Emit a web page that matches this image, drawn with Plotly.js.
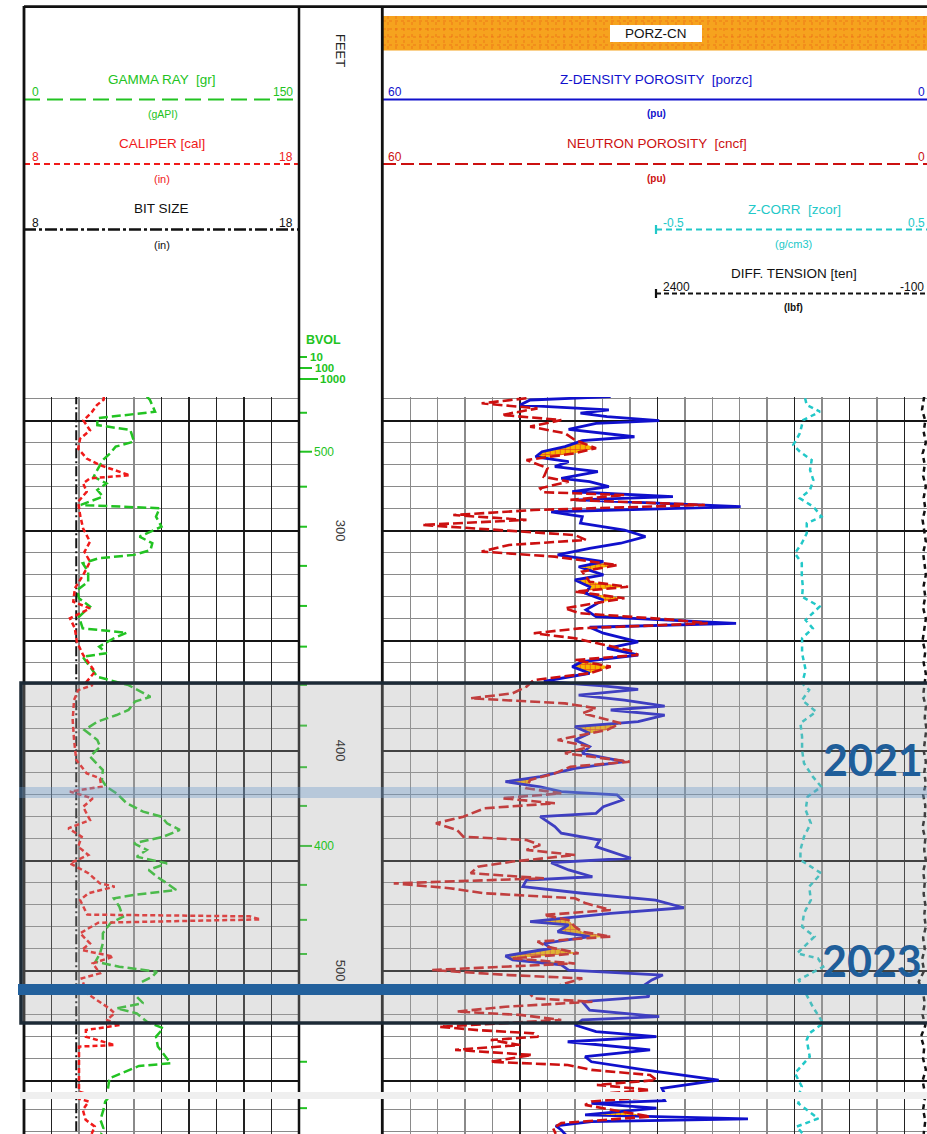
<!DOCTYPE html>
<html><head><meta charset="utf-8">
<script src="https://cdn.plot.ly/plotly-3.0.1.min.js"></script>
<style>html,body{margin:0;padding:0;background:#fff;}#chart{width:927px;height:1134px;}</style>
</head><body><div id="chart"></div>
<script>
// ---------------- DATA (depth in feet, value) ----------------
const grCurve=[[239,67],[240.6,68.7],[245.9,71.5],[248.9,40],[252,40],[254.2,58],[259.5,60],[261.8,50],[264.8,47],[267.9,43],[272.4,40],[275.5,38],[278.5,45],[281.5,40],[284.5,43],[288.3,31],[289.8,74],[293.6,72],[298.2,75],[302.7,63],[305.7,70],[308.8,69],[311,60],[312.5,41],[314.8,32],[318.6,35],[323.2,35],[327,29],[330.7,30],[334.5,36],[339.1,30],[344.4,32],[346.4,56],[348.9,49],[352.7,41],[355.7,45],[357.3,32],[361.8,36],[366.4,40],[370.2,57],[375.5,69],[377.7,60.5],[381.5,57],[383.8,50.5],[386.8,40],[390.6,33],[395.1,40],[398.2,41.5],[402.7,36],[408.8,43],[413.3,42.5],[416.4,45],[419.4,50.5],[423.9,56],[427.7,65],[430,75],[433,78],[436,85],[439.1,76],[442.1,60],[445.1,67],[448.2,61.5],[451.2,78],[454.2,68],[457.3,72.5],[460.3,78],[463.3,83],[465.6,60],[467.1,49],[470.9,52],[475.5,54],[478.5,47],[483,43],[487.6,43],[492.1,41.5],[495.9,39],[498.2,52],[500.5,72.5],[502.7,70],[505.7,63],[511.8,61.5],[514.8,65],[517.1,50.5],[519.4,61.5],[523.2,67],[526.2,76],[530,72],[534.5,73],[539.1,77],[542.1,80],[543.3,62.7],[547.4,51],[548.9,46.6],[555,45.6],[556.3,44.3],[560.1,43.3],[564.6,41.7],[568.4,43.3],[571,42]];
const calCurve=[[239,10.9],[240.4,10.9],[242.9,10.65],[246.2,10.46],[249.9,10.16],[254.4,10.4],[258.2,10.04],[262.7,9.97],[267.2,10.28],[270.2,10.76],[274.8,11.85],[276.2,10.4],[278.5,10.15],[282.3,10.28],[286.8,9.97],[292.9,10.04],[299,10.15],[305,10.4],[309.6,10.2],[314.1,10.4],[320.2,10.15],[326.2,9.85],[332.3,9.79],[335.3,10.4],[339.8,9.67],[344.4,9.85],[350.4,9.92],[356.5,10.15],[364.1,10.58],[368.6,10.28],[370.2,10.5],[372.5,9.97],[377,9.82],[386.1,9.77],[395.1,9.82],[404.2,9.9],[410.3,10.28],[412.5,10.76],[416.4,10.82],[418.6,9.67],[421.7,10.5],[425.5,10.15],[431.5,10.4],[435.3,9.61],[439.1,10.1],[443.6,9.97],[447.4,10.34],[451.2,9.67],[455.7,10.34],[460.3,10.76],[461.8,11.3],[464.8,10.34],[467.9,10.04],[474.5,10.3],[475.3,16.2],[476.7,16.6],[478.2,10.7],[483,10.04],[487.6,10.4],[490.6,10.1],[493.6,11.25],[496.7,10.5],[501.2,10.76],[503.5,10.1],[510.3,10.28],[514.1,10.76],[517.1,11.1],[519.4,11.3],[522.4,11],[524.7,11.5],[527,10.25],[530,10.25],[532.3,10.9],[533.8,11.3],[534.5,10],[540.6,10],[549.7,10],[555,10],[556.3,10.35],[560.1,10.14],[564.6,10.24],[567.6,10.57],[571,10.46]];
const bitCurve=[[238,9.9],[572,9.9]];
const denCurve=[[239.1,35.1],[240.6,43.9],[242.9,45],[245.1,35.3],[246.6,38.4],[248.2,35.5],[250,29.8],[251.2,36.7],[253.9,39.7],[255.7,35.9],[257.3,32.5],[259.1,38.2],[261.8,40.1],[264.1,42.6],[266.4,43.3],[268.6,39.7],[270.9,41.2],[273.2,36.5],[276.2,40.5],[277.7,37.4],[280,35.3],[282.3,39.3],[284.5,28.3],[286,38.6],[289.1,20.9],[291.4,41.6],[293.6,38.2],[296.6,38.4],[299.7,33.6],[302.7,31.3],[305.7,34],[308,37.4],[311,40.9],[314.1,35.9],[316.4,38.6],[320.1,35.9],[322.4,39],[325.5,37.4],[328.5,37.8],[331.5,35.9],[336,37.8],[339.1,36.7],[342.1,21.4],[343.9,37.4],[346.6,35.9],[350.5,32.1],[353.5,35.5],[356.5,32.1],[359.5,38.2],[361.8,39.3],[364.8,37.4],[368.5,42.4],[370.5,36],[372.1,32.1],[374.7,38.6],[377,33.6],[379.7,29.2],[381.5,35.1],[383.8,29.2],[386.8,32.1],[389.1,39],[392.1,37.4],[395.1,39],[398.2,37.4],[401.2,38.2],[405,33.6],[408,39],[411.8,42.8],[414.1,46.6],[416.4,42.8],[418.6,40.5],[420.1,34.4],[422.4,33.8],[425.5,35.9],[428.5,36.7],[430,42.8],[434.5,41.2],[437.5,40.5],[440.6,36.3],[443.6,36.7],[446.6,34.4],[448.9,32.9],[450.9,41.6],[454.2,39.7],[457.3,37.1],[458.8,44.3],[461.8,44.7],[464.8,38.2],[467.9,30.2],[471.4,27.1],[473.9,35.1],[477.7,43.9],[479.2,39.7],[482.3,40.9],[484.5,37.4],[487.6,42.4],[489.8,41.6],[493.3,46.6],[495.1,45.8],[497.4,40.5],[499.7,39.7],[502,29.4],[504.2,30.6],[507.3,31.7],[511.8,30.9],[514.1,38.2],[517.9,37.4],[520.9,29.8],[522.4,38.2],[524.7,39],[527.7,36.7],[530,30.1],[532.3,39.8],[536,30.8],[539.1,37.9],[541.4,37.2],[545.1,31.4],[549.7,23.3],[553.5,29.5],[555.9,29.2],[557.1,37.2],[559.3,30.1],[562.4,37.9],[564.2,20.1],[565.4,37.2],[567.4,41.1],[569.2,40.5],[571.5,40]];
const neuCurve=[[239.8,44.3],[242.1,49.2],[244.4,43.1],[247.4,47],[249.7,40.5],[252.7,43.9],[255.7,40.1],[258.8,39],[262.5,36.7],[264.8,39],[267.9,44.3],[271.6,42],[275.5,42.4],[277.7,39.7],[280.7,42.8],[282.5,42.5],[283.8,33.6],[286,39.5],[288.3,24.8],[290.6,43.5],[292.9,52.3],[295.1,44.3],[297.4,55.7],[299.7,47.7],[302,39],[304.2,37.8],[306.5,46.2],[309.5,49.2],[311.8,41.2],[315.6,34.4],[318.6,38.2],[323.2,37.4],[325.5,33.2],[327.7,39],[330.7,33.6],[335.3,40.1],[337.5,38.5],[340.6,27.9],[342.1,24.5],[344.4,38.5],[346.6,43.5],[348.9,39],[352.7,35.1],[354.5,33],[356.5,32.1],[358.8,39],[361.8,35.1],[364.8,37.4],[367.9,43.5],[370.9,44.3],[373.9,45.8],[376.2,50.4],[378.5,40.1],[380.7,36.7],[383,38.2],[387.5,34],[390.6,35.5],[395.1,40.9],[398.2,37.4],[401.2,40.1],[405,33],[407.3,39.5],[410.3,41.2],[413.3,43.9],[417.1,44.3],[419.4,40.5],[421.6,47],[423.9,41.2],[426.2,48.9],[430,51.2],[433,54.2],[436,51.9],[439.1,51.2],[440.6,44.3],[442.9,42.8],[445.1,44.3],[447.4,39],[450.4,45.8],[452.7,49.6],[455.7,50.4],[458,42.4],[460.3,58.8],[462.5,52.7],[464.8,48.9],[467.1,39],[469.4,37.8],[472.4,35.1],[474.7,42.4],[477,39.7],[480,39],[482.3,38.2],[484.5,35.1],[486.8,43.1],[489.1,42],[492.1,38.6],[494.4,45.8],[496.7,39],[499.7,54.6],[502,46.2],[503.5,38.2],[507,41],[510,44],[512.6,43.5],[514.1,37.1],[516.4,46.6],[518.6,51.9],[520.1,45],[522.4,40.5],[525.5,53.8],[527,49.6],[528.5,43.5],[530,43],[531.5,48.2],[533.8,45],[536,52.1],[538.3,43.7],[541.4,48.2],[542.9,39.8],[545.1,37.2],[547.4,30.8],[549.7,30.1],[551.9,36.6],[554.2,30.8],[556.3,37.2],[557.8,37.9],[560.8,34],[563.1,30.8],[566.1,40.5],[568.4,41.4],[571,41.1]];
const zcorCurve=[[239.8,0.038],[242.9,0.044],[245.9,0.092],[249.7,0.031],[255.7,0.019],[261,-0.005],[264.1,0.019],[267.9,0.062],[272.4,0.056],[277,0.068],[281.5,0.056],[285.3,0.019],[289.1,0.068],[293.6,0.098],[296.6,0.044],[301.2,0.044],[305.7,0.026],[310.3,0.001],[314.8,0.026],[320.9,0.026],[325.5,0.03],[330,0.027],[334.5,0.091],[340.6,0.04],[344.4,0.066],[348.9,0.027],[355.7,0.027],[363.3,0.04],[369.4,0.027],[372.4,0.053],[377,0.027],[382.3,0.078],[387.5,0.021],[393.6,0.027],[399.7,0.027],[405.7,0.034],[411.8,0.066],[416.4,0.097],[420.9,0.047],[427,0.04],[433,0.059],[439.1,0.034],[445.1,0.021],[449.7,0.021],[455.7,0.097],[461.8,0.053],[467.9,0.059],[473.9,0.034],[480,0.027],[484.5,0.072],[489.1,0.034],[492.1,0.009],[494.4,0.085],[498.2,0.104],[504.2,0.015],[510.3,0.04],[516.4,0.066],[523.9,0.104],[528.5,0.053],[531.5,0.044],[539.1,0.055],[546.6,0.001],[552.7,0.026],[557.1,0.013],[564,0.086],[567.7,0.007],[571,0.03]];
const tenCurve=[[239,-30],[245,-10],[250,-40],[255,-25],[260,-45],[265,-15],[270,-35],[275,-20],[280,-45],[285,-25],[290,-40],[295,-15],[300,-30],[305,-45],[310,-20],[315,-35],[320,-45],[325,-25],[330,-40],[335,-20],[340,-45],[345,-30],[350,-15],[355,-40],[360,-25],[365,-45],[370,-30],[375,-20],[380,-45],[385,-35],[390,-50],[395,-40],[400,-25],[405,-45],[410,-30],[415,-45],[420,-20],[425,-40],[430,-35],[435,-15],[440,-40],[445,-30],[450,-45],[455,-20],[460,-35],[465,-25],[470,-40],[475,-30],[480,-45],[485,-20],[490,-35],[495,-10],[500,-30],[505,20],[510,-20],[515,-35],[520,-15],[525,-40],[530,0],[535,-30],[540,-20],[545,-45],[550,-15],[555,-35],[560,-20],[565,-40],[571,-25]];
const bvolTickDepth=[246.4,264.1,280,298.2,316,334.2,352.7,370.1,388.6,407.5,425.1,443.3,461,476.9,492.4,541.4,559.3];
const bvolLabelDepth=[264.1,443.3];
const bvolLabelText=['500','400'];
const depthLabels=[300,400,500];
const yearLabels=['2021','2023'];

// ---------------- HELPERS ----------------
const W=927,H=1134;
const PX=x=>x/W, PY=y=>1-y/H;
const FONT='Liberation Sans, Arial, sans-serif';
const f=(size,color,fam)=>({family:fam||FONT,size:size,color:color});
const GRC='#22c322',CALC='#f01a1a',DENC='#1010cc',NEUC='#cc1010',ZCC='#22c8c8',BLK='#111';
const dOf=c=>c.map(p=>p[0]), vOf=c=>c.map(p=>p[1]);

const layout={width:W,height:H,margin:{l:0,r:0,t:0,b:0},paper_bgcolor:'#fff',plot_bgcolor:'rgba(0,0,0,0)',showlegend:false,shapes:[],annotations:[]};
function ann(text,x,y,font,extra){layout.annotations.push(Object.assign({text:text,x:PX(x),y:PY(y),xref:'paper',yref:'paper',showarrow:false,xanchor:'center',yanchor:'middle',font:font},extra||{}));}
function hline(x0,x1,y,color,width,dash,layer){layout.shapes.push({type:'line',xref:'paper',yref:'paper',x0:PX(x0),x1:PX(x1),y0:PY(y),y1:PY(y),line:{color:color,width:width,dash:dash||'solid'},layer:layer||'above'});}
function vline(x,y0,y1,color,width,dash,layer){layout.shapes.push({type:'line',xref:'paper',yref:'paper',x0:PX(x),x1:PX(x),y0:PY(y0),y1:PY(y1),line:{color:color,width:width,dash:dash||'solid'},layer:layer||'above'});}
function rect(x0,x1,y0,y1,fill,line,layer){layout.shapes.push({type:'rect',xref:'paper',yref:'paper',x0:PX(x0),x1:PX(x1),y0:PY(y1),y1:PY(y0),fillcolor:fill,line:line||{width:0},layer:layer||'above'});}

// ---------------- CROSSOVER FILL (density porosity > neutron porosity) ----------------
function interp(c,d){if(d<=c[0][0])return c[0][1];const n=c.length;if(d>=c[n-1][0])return c[n-1][1];let i=1;while(c[i][0]<d)i++;const t=(d-c[i-1][0])/(c[i][0]-c[i-1][0]);return c[i-1][1]+t*(c[i][1]-c[i-1][1]);}
const base=[...new Set([...dOf(denCurve),...dOf(neuCurve)])].sort((a,b)=>a-b);
const grid=[];
for(let i=0;i<base.length;i++){
  if(i>0){const a=base[i-1],b=base[i];const ea=interp(denCurve,a)-interp(neuCurve,a),eb=interp(denCurve,b)-interp(neuCurve,b);
    if(ea*eb<0)grid.push(a+(b-a)*ea/(ea-eb));}
  grid.push(base[i]);
}
const nI=grid.map(d=>interp(neuCurve,d)), mI=grid.map(d=>Math.max(interp(neuCurve,d),interp(denCurve,d)));
const fillX=[...nI,...mI.slice().reverse()], fillY=[...grid,...grid.slice().reverse()];

// ---------------- AXES / ROWS ----------------
const rows=[{px:[397,1092],rng:[555.14,239.23]},{px:[1099,1134],rng:[571.05,555.14]}];
const T1=[24,299],T2=[382.8,927],TD=[299,382];
const hid={showticklabels:false,ticks:'',zeroline:false,showline:false};
const traces=[];
const t1Major=[15,45,75,90,105,120,135], t1Minor=[], t2Major=[45,30,15,9,3], t2Minor=[];
for(let v=0;v<=150;v+=15)t1Minor.push(v);
for(let v=0;v<=60;v+=3)t2Minor.push(v);

rows.forEach((r,i)=>{
  const b=i*6;
  const n=j=>'x'+((b+j)===1?'':(b+j)), key=j=>'xaxis'+((b+j)===1?'':(b+j));
  const yM=i===0?'y':'y3', yD=i===0?'y2':'y4', yMk=i===0?'yaxis':'yaxis3', yDk=i===0?'yaxis2':'yaxis4';
  const dom=[PY(r.px[1]),PY(r.px[0])];
  layout[yMk]=Object.assign({domain:dom,range:r.rng,anchor:n(1),tickmode:'linear',tick0:0,dtick:50,showgrid:true,gridcolor:'#151515',gridwidth:2,
    minor:{tickmode:'linear',tick0:0,dtick:10,showgrid:true,gridcolor:'#8a8a8a',gridwidth:1.5}},hid);
  layout[yDk]=Object.assign({domain:dom,range:r.rng,anchor:n(6),visible:false,showgrid:false},hid);
  layout[key(1)]=Object.assign({domain:[PX(T1[0]),PX(T1[1])],range:[0,150],anchor:yM,tickmode:'array',tickvals:t1Major,showgrid:true,gridcolor:'#222',gridwidth:1.5,
    minor:{tickmode:'array',tickvals:t1Minor,showgrid:true,gridcolor:'#8a8a8a',gridwidth:1.5}},hid);
  layout[key(2)]=Object.assign({overlaying:n(1),range:[8,18],anchor:yM,visible:false,showgrid:false},hid);
  layout[key(3)]=Object.assign({domain:[PX(T2[0]),PX(T2[1])],range:[60,0.537],anchor:yM,tickmode:'array',tickvals:t2Major,showgrid:true,gridcolor:'#222',gridwidth:1.5,
    minor:{tickmode:'array',tickvals:t2Minor,showgrid:true,gridcolor:'#8a8a8a',gridwidth:1.5}},hid);
  layout[key(4)]=Object.assign({overlaying:n(3),range:[-1.5,0.482],anchor:yM,visible:false,showgrid:false},hid);
  layout[key(5)]=Object.assign({overlaying:n(3),range:[4901,-55.4],anchor:yM,visible:false,showgrid:false},hid);
  layout[key(6)]=Object.assign({domain:[PX(TD[0]),PX(TD[1])],range:[0,83],anchor:yD,visible:false,showgrid:false},hid);

  const L=(c,xa,color,width,dash)=>({type:'scatter',mode:'lines',x:vOf(c),y:dOf(c),xaxis:xa,yaxis:yM,line:{color:color,width:width,dash:dash||'solid'},hoverinfo:'skip'});
  traces.push({type:'scatter',mode:'lines',x:fillX,y:fillY,xaxis:n(3),yaxis:yM,fill:'toself',fillcolor:'#f6b000',
    fillpattern:{shape:'+',fgcolor:'#e8421c',bgcolor:'#f7b800',size:5,solidity:0.25},line:{width:0},hoverinfo:'skip'});
  traces.push(L(bitCurve,n(2),BLK,2,'10px,3px,2px,3px'));
  traces.push(L(calCurve,n(2),CALC,2.5,'5px,3px'));
  traces.push(L(grCurve,n(1),GRC,2.5,'9px,4px'));
  traces.push(L(zcorCurve,n(4),ZCC,2.5,'5px,4px'));
  traces.push(L(tenCurve,n(5),BLK,2.5,'5px,4px'));
  traces.push(L(denCurve,n(3),DENC,2.8));
  traces.push(L(neuCurve,n(3),NEUC,2.6,'10px,4px'));
  // BVOL ticks in depth track
  const tx=[],ty=[];
  bvolTickDepth.forEach(d=>{const len=bvolLabelDepth.includes(d)?13:8;tx.push(0,len,null);ty.push(d,d,null);});
  traces.push({type:'scatter',mode:'lines',x:tx,y:ty,xaxis:n(6),yaxis:yD,line:{color:GRC,width:2},hoverinfo:'skip'});
  if(i===0){
    bvolLabelDepth.forEach((d,k)=>layout.annotations.push({text:bvolLabelText[k],x:PX(312),y:d,xref:'paper',yref:yD,showarrow:false,xanchor:'left',yanchor:'middle',font:f(12,GRC)}));
    depthLabels.forEach(d=>layout.annotations.push({text:String(d),x:PX(340),y:d,xref:'paper',yref:yM,showarrow:false,xanchor:'center',yanchor:'middle',textangle:90,font:f(13,'#3a3a3a')}));
  }
});

// ---------------- HEADER ----------------
// orange PORZ-CN band
rect(383,927,16,50.5,'#f6a31e');
for(let x=388;x<927;x+=8)vline(x,16,50.5,'rgba(225,45,20,0.35)',1,'dot');
[21,29,37,45].forEach(y=>hline(383,927,y,'rgba(225,45,20,0.35)',1,'dot'));
rect(610,702,25,42,'#ffffff');
ann('PORZ-CN',656,33.5,f(13.5,BLK));
// track 1 header
ann('GAMMA RAY  [gr]',161.5,79,f(13.5,GRC));
ann('0',35,92.5,f(12,GRC)); ann('150',283,92.5,f(12,GRC));
hline(24,299,99.5,GRC,2.2,'16px,7px');
ann('(gAPI)',162.5,114,f(10.5,GRC));
ann('CALIPER [cal]',161.5,143,f(13.5,CALC));
ann('8',35,157,f(12,CALC)); ann('18',286,157,f(12,CALC));
hline(24,299,164,CALC,2.2,'6px,4px');
ann('(in)',162,179,f(11,CALC));
ann('BIT SIZE',161.5,208,f(13.5,BLK));
ann('8',35,222.5,f(12,BLK)); ann('18',286,222.5,f(12,BLK));
hline(24,299,229.5,BLK,2.5,'12px,3px,3px,3px');
ann('(in)',162,245,f(11,BLK));
// track 2 header
ann('Z-DENSITY POROSITY  [porzc]',656,79,f(13.5,DENC));
ann('60',395,92.5,f(12,DENC)); ann('0',921.5,92.5,f(12,DENC));
hline(383,927,99.5,DENC,2.2);
ann('<b>(pu)</b>',656.5,114,f(10,DENC));
ann('NEUTRON POROSITY  [cncf]',657,143.5,f(13.5,NEUC));
ann('60',395,157,f(12,NEUC)); ann('0',921.5,157,f(12,NEUC));
hline(383,927,164,NEUC,2.2,'13px,5px');
ann('<b>(pu)</b>',656.5,178.5,f(10,NEUC));
ann('Z-CORR  [zcor]',794,209.5,f(13.5,ZCC));
ann('-0.5',673,222.5,f(12,ZCC)); ann('0.5',916,222.5,f(12,ZCC));
hline(656,927,229.5,ZCC,2.2,'6px,4px'); vline(656,225,234,ZCC,2.2);
ann('(g/cm3)',793.5,243.5,f(11,ZCC));
ann('DIFF. TENSION [ten]',794,274,f(13.5,BLK));
ann('2400',676.5,287,f(12,BLK)); ann('-100',912,287,f(12,BLK));
hline(656,927,293.5,BLK,2.2,'5px,3px'); vline(656,289,298,BLK,2.2);
ann('<b>(lbf)</b>',793.5,307.5,f(10,BLK));
// depth track header
ann('FEET',340,50,f(13,'#222'),{textangle:90});
ann('<b>BVOL</b>',323.5,340,f(12.5,GRC));
hline(300,307,357,GRC,2); ann('<b>10</b>',308,357,f(11.5,GRC),{xanchor:'left'});
hline(300,312,368,GRC,2); ann('<b>100</b>',312.5,368,f(11.5,GRC),{xanchor:'left'});
hline(300,318,379,GRC,2); ann('<b>1000</b>',318,379,f(11.5,GRC),{xanchor:'left'});

// ---------------- FRAME ----------------
hline(24,927,6.7,BLK,2.8);
vline(24,6,1134,BLK,2.8);
vline(299,6,1134,BLK,2.5);
vline(382.3,6,1134,BLK,2.8);
rect(20,927,1092,1099,'#efefef');

// ---------------- HIGHLIGHT ----------------
rect(21,945,683,1023,'rgba(169,169,169,0.31)',{color:'#1c2a36',width:3.5});
rect(19,927,787,798,'rgba(100,150,200,0.35)');
rect(18,927,984,995,'#22609c');
ann('<b>'+yearLabels[0]+'</b>',873,759,f(43,'#1f5e9a','Lato, Open Sans, sans-serif'));
ann('<b>'+yearLabels[1]+'</b>',872,960,f(43,'#1f5e9a','Lato, Open Sans, sans-serif'));

Plotly.newPlot('chart',traces,layout,{staticPlot:true,displayModeBar:false});
</script></body></html>
